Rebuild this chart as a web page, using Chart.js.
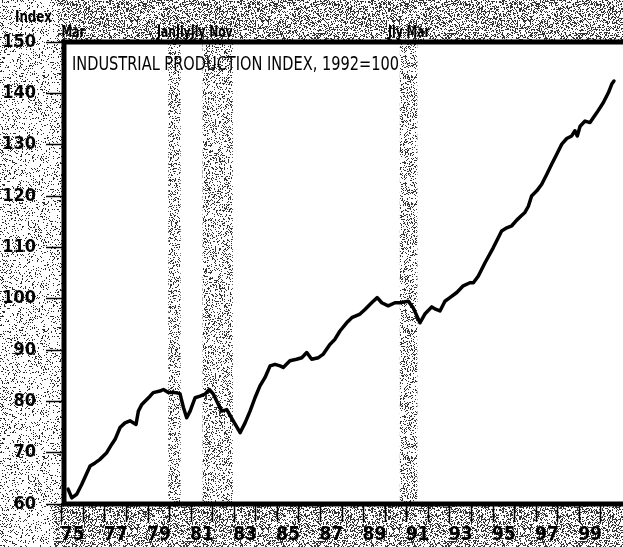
<!DOCTYPE html>
<html>
<head>
<meta charset="utf-8">
<script src="https://cdn.jsdelivr.net/npm/chart.js@4.4.1/dist/chart.umd.min.js"></script>
<style>
html, body { margin: 0; padding: 0; background: #fff; }
#wrap { width: 623px; height: 547px; }
</style>
</head>
<body>
<div id="wrap"><canvas id="grafico"></canvas></div>
<script>
// dados (ano decimal, indice 1992=100)
const years = [1975.29, 1975.46, 1975.69, 1975.92, 1976.31, 1976.54, 1976.77, 1977.08, 1977.31, 1977.47,
  1977.70, 1977.93, 1978.16, 1978.44, 1978.55, 1978.71, 1979.09, 1979.24, 1979.55, 1979.71,
  1979.94, 1980.25, 1980.48, 1980.64, 1980.79, 1980.95, 1981.18, 1981.41, 1981.64, 1981.84,
  1982.03, 1982.26, 1982.42, 1982.65, 1982.95, 1983.27, 1983.50, 1983.73, 1983.96, 1984.19,
  1984.42, 1984.66, 1984.89, 1985.12, 1985.27, 1985.58, 1985.89, 1986.13, 1986.36, 1986.59,
  1986.90, 1987.13, 1987.44, 1987.67, 1987.90, 1988.21, 1988.45, 1988.83, 1989.06, 1989.37,
  1989.63, 1989.84, 1990.14, 1990.45, 1990.68, 1991.07, 1991.30, 1991.61, 1991.84, 1992.16,
  1992.36, 1992.54, 1992.77, 1993.00, 1993.32, 1993.62, 1993.93, 1994.09, 1994.32, 1994.63,
  1995.01, 1995.40, 1995.64, 1995.87, 1996.10, 1996.30, 1996.48, 1996.64, 1996.79, 1997.03,
  1997.26, 1997.49, 1997.72, 1997.95, 1998.19, 1998.42, 1998.65, 1998.80, 1998.91, 1999.04,
  1999.27, 1999.50, 1999.81, 2000.12, 2000.35, 2000.51, 2000.61];
const index = [62.9, 61.2, 61.9, 63.8, 67.4, 68.0, 68.7, 70.0, 71.6, 72.6,
  74.9, 75.8, 76.2, 75.5, 78.1, 79.4, 81.0, 81.7, 82.0, 82.3,
  81.7, 81.7, 81.5, 78.8, 76.8, 78.1, 80.7, 81.0, 81.4, 82.3,
  81.4, 79.4, 78.1, 78.4, 76.2, 73.9, 75.8, 78.1, 80.7, 83.0,
  84.6, 86.9, 87.2, 86.9, 86.6, 87.9, 88.2, 88.5, 89.5, 88.2,
  88.5, 89.2, 91.1, 92.1, 93.7, 95.3, 96.3, 97.0, 97.9, 99.2,
  100.2, 99.2, 98.6, 99.2, 99.2, 99.5, 98.2, 95.3, 97.0, 98.4,
  97.9, 97.6, 99.5, 100.2, 101.2, 102.5, 103.1, 103.1, 104.4, 107.0,
  109.9, 113.2, 113.8, 114.2, 115.3, 116.1, 116.8, 118.0, 120.0, 121.0,
  122.3, 124.2, 126.2, 128.1, 130.1, 131.2, 131.7, 132.7, 131.7, 133.6,
  134.6, 134.3, 136.2, 138.2, 140.1, 141.8, 142.4];

// recessoes (faixas cinzas)
const recStart = [1979.94, 1981.53, 1990.68];
const recEnd = [1980.51, 1982.93, 1991.49];
const recLabels = ['Mar', 'JanJlyJly Nov', 'Jly Mar'];
const recLabelAt = [1974.98, 1979.41, 1990.13];

const yTicks = [60, 70, 80, 90, 100, 110, 120, 130, 140, 150];
const xTicks = [1975, 1976, 1977, 1978, 1979, 1980, 1981, 1982, 1983, 1984, 1985, 1986, 1987,
  1988, 1989, 1990, 1991, 1992, 1993, 1994, 1995, 1996, 1997, 1998, 1999, 2000];
const titulo = 'INDUSTRIAL PRODUCTION INDEX, 1992=100';

const FONTE = "'Liberation Sans Narrow', 'DejaVu Sans Condensed', 'Liberation Sans', sans-serif";

// textura pontilhada (imitando o scan)
function hash(i, j, s) {
  let h = (i * 374761393 + j * 668265263 + s * 2246822519) | 0;
  h = Math.imul(h ^ (h >>> 13), 1274126177);
  h = h ^ (h >>> 16);
  return (h >>> 0) / 4294967296;
}
function pontilhado(dens, semente, cor) {
  const c = document.createElement('canvas');
  c.width = 131; c.height = 127;
  const g = c.getContext('2d');
  const img = g.createImageData(c.width, c.height);
  for (let j = 0; j < c.height; j++) {
    for (let i = 0; i < c.width; i++) {
      const k = (j * c.width + i) * 4;
      const v = hash(i, j, semente) < dens ? cor : 255;
      img.data[k] = v; img.data[k + 1] = v; img.data[k + 2] = v; img.data[k + 3] = 255;
    }
  }
  g.putImageData(img, 0, 0);
  return c;
}

function texto(ctx, s, x, y, fonte, escala) {
  ctx.save();
  ctx.font = fonte;
  ctx.translate(x, y);
  ctx.scale(escala, 1);
  ctx.fillText(s, 0, 0);
  ctx.restore();
}

const fundo = {
  id: 'fundo',
  beforeDraw(chart) {
    const { ctx, chartArea: a, scales: { x } } = chart;
    ctx.save();
    // margem esquerda mais clara, faixas de cima e de baixo mais escuras
    ctx.fillStyle = ctx.createPattern(pontilhado(0.14, 1, 40), 'repeat');
    ctx.fillRect(0, 0, chart.width, chart.height);
    ctx.fillStyle = ctx.createPattern(pontilhado(0.36, 3, 50), 'repeat');
    ctx.fillRect(a.left - 6, 0, chart.width, a.top);
    ctx.fillRect(a.left - 10, a.bottom, chart.width, chart.height - a.bottom);
    ctx.fillStyle = '#fff';
    ctx.fillRect(a.left, a.top, a.right - a.left, a.bottom - a.top);
    ctx.fillStyle = ctx.createPattern(pontilhado(0.24, 7, 50), 'repeat');
    recStart.forEach((s, i) => {
      const x0 = x.getPixelForValue(s);
      const x1 = x.getPixelForValue(recEnd[i]);
      ctx.fillRect(x0, a.top, x1 - x0, a.bottom - a.top);
    });
    ctx.restore();
  },
  afterDraw(chart) {
    const { ctx, chartArea: a, scales: { x } } = chart;
    ctx.save();
    // moldura (lado direito cortado)
    ctx.strokeStyle = '#000';
    ctx.lineWidth = 5;
    ctx.lineCap = 'square';
    ctx.beginPath();
    ctx.moveTo(a.right + 5, a.top);
    ctx.lineTo(a.left, a.top);
    ctx.lineTo(a.left, a.bottom);
    ctx.lineTo(a.right + 5, a.bottom);
    ctx.stroke();

    ctx.fillStyle = '#000';
    ctx.textBaseline = 'alphabetic';
    texto(ctx, titulo, a.left + 8, a.top + 28, '20px ' + FONTE, 0.81);
    texto(ctx, 'Index', 15, 22, 'bold 16px ' + FONTE, 0.82);
    recLabels.forEach((s, i) => {
      texto(ctx, s, x.getPixelForValue(recLabelAt[i]), 37, 'bold 15px ' + FONTE, 0.8);
    });
    ctx.restore();
  }
};

new Chart(document.getElementById('grafico'), {
  type: 'line',
  data: {
    datasets: [{
      label: 'Industrial production',
      data: years.map((t, i) => ({ x: t, y: index[i] })),
      borderColor: '#000',
      borderWidth: 3.5,
      pointRadius: 0,
      tension: 0,
      borderJoinStyle: 'round',
      borderCapStyle: 'round'
    }]
  },
  options: {
    responsive: true,
    maintainAspectRatio: false,
    devicePixelRatio: 1,
    animation: false,
    layout: { padding: { top: 42, right: 0, bottom: 0, left: 0 } },
    plugins: { legend: { display: false }, tooltip: { enabled: false } },
    scales: {
      x: {
        type: 'linear',
        min: 1975.10,
        max: 2001.03,
        afterBuildTicks: s => { s.ticks = xTicks.map(v => ({ value: v })); },
        afterFit: s => { s.height = 43; },
        border: { display: false },
        grid: { drawOnChartArea: false, tickLength: 18, tickWidth: 1.5, tickColor: '#000' },
        ticks: {
          color: '#000',
          font: { family: FONTE, size: 19, weight: 'bold' },
          padding: 2,
          labelOffset: 10.8,
          autoSkip: false,
          maxRotation: 0,
          callback: v => (v % 2 === 1 ? String(v % 100) : '')
        }
      },
      y: {
        min: 60,
        max: 150,
        afterBuildTicks: s => { s.ticks = yTicks.map(v => ({ value: v })); },
        afterFit: s => { s.width = 64; },
        border: { display: false },
        grid: { drawOnChartArea: false, tickLength: 18, tickWidth: 1.5, tickColor: '#000' },
        ticks: {
          color: '#000',
          font: { family: FONTE, size: 18, weight: 'bold' },
          padding: 10
        }
      }
    }
  },
  plugins: [fundo]
});
</script>
</body>
</html>
